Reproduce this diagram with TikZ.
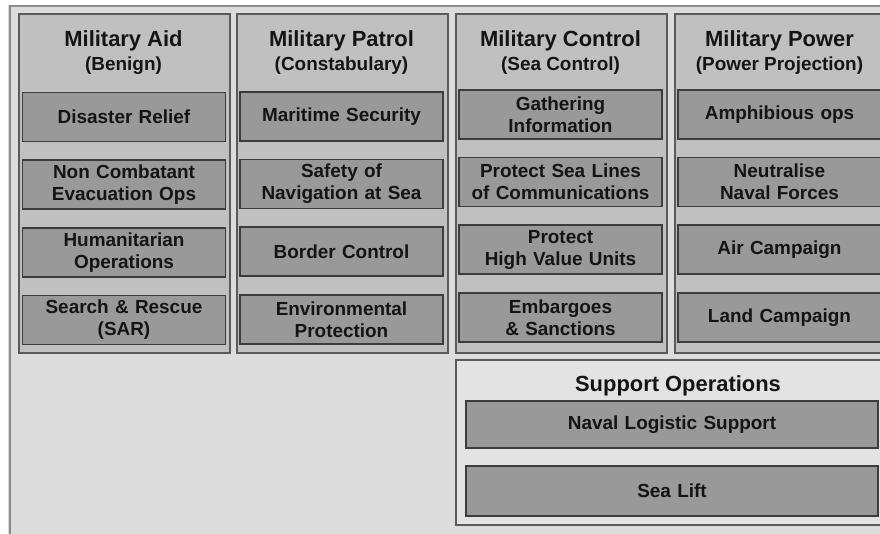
\documentclass[tikz,border=0pt]{standalone}
\usepackage{fontspec}
\setmainfont{Liberation Sans}
\usetikzlibrary{positioning}
\definecolor{bggray}{HTML}{DCDCDC}
\definecolor{frameline}{HTML}{8C8C8C}
\definecolor{panelgray}{HTML}{C0C0C0}
\definecolor{panelline}{HTML}{5A5A5A}
\definecolor{supportgray}{HTML}{E3E3E3}
\definecolor{taskgray}{HTML}{999999}
\definecolor{taskline}{HTML}{3C3C3C}
\definecolor{inkgray}{HTML}{141414}
\tikzset{
panel/.style = {draw=panelline, fill=panelgray, line width=1.6bp,
                minimum width=211bp, minimum height=339bp,
                anchor=north west, inner sep=0pt},
task/.style = {draw=taskline, fill=taskgray, line width=1.6bp,
               minimum width=203bp, minimum height=49bp, text width=195bp,
               align=center, inner sep=0pt, text=inkgray,
               font=\bfseries\fontsize{19}{22}\selectfont},
widetask/.style = {task, minimum width=412bp, text width=400bp},
head/.style = {anchor=base, text=inkgray, inner sep=0pt,
               font=\bfseries\fontsize{22}{24}\selectfont},
subhead/.style = {anchor=base, text=inkgray, inner sep=0pt,
                  font=\bfseries\fontsize{19}{21}\selectfont}
}

\begin{document}
\begin{tikzpicture}[x=1bp, y=-1bp, node distance=17bp]
    \useasboundingbox (0,0) rectangle (880,534);

    % outer frame
    \fill[bggray] (8,5) rectangle (890,540);
    \draw[frameline, line width=2bp] (9.5,540) -- (9.5,6) -- (890,6);

    % the four columns
    \node[panel] (colaid) at (18,13) {};
    \node[panel] (colpatrol) at (236,13) {};
    \node[panel] (colcontrol) at (455,13) {};
    \node[panel] (colpower) at (674,13) {};

    \node[head] (aidt) at (123.5,46.5) {Military Aid};
    \node[subhead] (aids) at (123.5,70.5) {(Benign)};
    \node[head] (patrolt) at (341.5,46.5) {Military Patrol};
    \node[subhead] (patrols) at (341.5,70.5) {(Constabulary)};
    \node[head] (controlt) at (560.5,46.5) {Military Control};
    \node[subhead] (controls) at (560.5,70.5) {(Sea Control)};
    \node[head] (powert) at (779.5,46.5) {Military Power};
    \node[subhead] (powers) at (779.5,70.5) {(Power Projection)};

    \node[task] (aid1) at (124,117) {Disaster Relief};
    \node[task, below=of aid1] (aid2) {Non Combatant\\Evacuation Ops};
    \node[task, below=of aid2] (aid3) {Humanitarian\\Operations};
    \node[task, below=of aid3] (aid4) {Search \& Rescue\\(SAR)};

    \node[task] (patrol1) at (341.5,116.5) {Maritime Security};
    \node[task, below=of patrol1] (patrol2) {Safety of\\Navigation at Sea};
    \node[task, below=of patrol2] (patrol3) {Border Control};
    \node[task, below=of patrol3] (patrol4) {Environmental\\Protection};

    \node[task] (control1) at (560.5,114.5) {Gathering\\Information};
    \node[task, below=of control1] (control2) {Protect Sea Lines\\of Communications};
    \node[task, below=of control2] (control3) {Protect\\High Value Units};
    \node[task, below=of control3] (control4) {Embargoes\\\& Sanctions};

    \node[task] (power1) at (779.5,114.5) {Amphibious ops};
    \node[task, below=of power1] (power2) {Neutralise\\Naval Forces};
    \node[task, below=of power2] (power3) {Air Campaign};
    \node[task, below=of power3] (power4) {Land Campaign};

    % support operations
    \node[panel, fill=supportgray, minimum width=440bp, minimum height=165bp]
        (support) at (455,359) {};
    \node[head] (supportt) at (678,391) {Support Operations};
    \node[widetask, minimum height=47bp] (support1) at (672,424.5) {Naval Logistic Support};
    \node[widetask, minimum height=50bp] (support2) at (672,491) {Sea Lift};
\end{tikzpicture}
\end{document}
